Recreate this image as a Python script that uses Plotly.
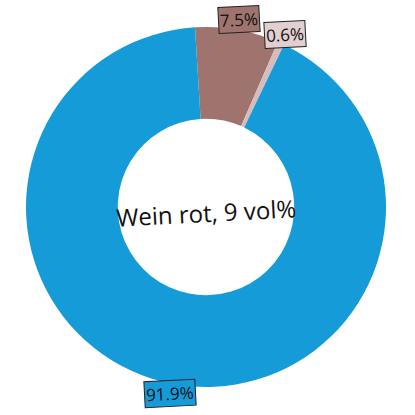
import math
import plotly.graph_objects as go

labels = ["Fett", "Eiweiß", "Kohlenhydrate"]
values = [7.5, 0.6, 91.9]
colors = ["#9f746e", "#d8bcbc", "#169bd9"]
label_bg = ["#9f746e", "#e2cfcf", "#169bd9"]
center_text = "Wein rot, 9 vol%"

rotation = -3.5
tilt = -3
font = "Open Sans"

fig = go.Figure(go.Pie(
    labels=labels, values=values, hole=0.49, sort=False,
    direction="clockwise", rotation=rotation,
    marker=dict(colors=colors, line=dict(width=0)),
    textinfo="none", hoverinfo="label+percent", showlegend=False,
))

annotations = []
total = sum(values)
cum = 0.0
for v, bg in zip(values, label_bg):
    mid = (cum + v / 2) / total * 360 + rotation
    cum += v
    th = math.radians(mid)
    k = 1.055
    annotations.append(dict(
        x=0.5 + 0.5 * k * math.sin(th), y=0.5 + 0.5 * k * math.cos(th),
        xref="paper", yref="paper", showarrow=False,
        xanchor="center", yanchor="middle",
        text=f"{v:.1f}%", textangle=tilt,
        font=dict(family=font, size=17, color="#111111"),
        bgcolor=bg, bordercolor="#222222", borderwidth=1, borderpad=1,
    ))
annotations.append(dict(
    x=0.5, y=0.485, xref="paper", yref="paper", showarrow=False,
    xanchor="center", yanchor="middle",
    text=center_text, textangle=tilt,
    font=dict(family=font, size=24, color="#111111"),
))

fig.update_layout(
    width=415, height=415,
    margin=dict(l=26, r=29, t=27, b=28),
    paper_bgcolor="white", plot_bgcolor="white",
    annotations=annotations,
)
fig.write_html("out.html")
